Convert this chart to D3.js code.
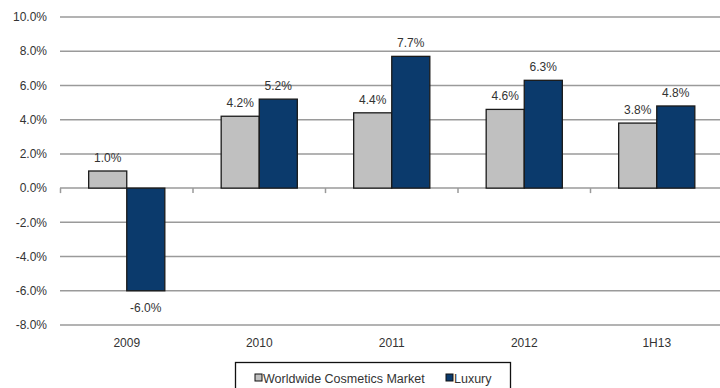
<!DOCTYPE html>
<html>
<head>
<meta charset="utf-8">
<script src="https://cdn.jsdelivr.net/npm/d3@7"></script>
<style>
  html, body { margin: 0; padding: 0; background: #fff; }
  svg { display: block; }
  text { font-family: "Liberation Sans", Arial, sans-serif; fill: #333; }
</style>
</head>
<body>
<svg id="chart" width="720" height="388"></svg>
<script>
// Annual growth by period
const categories = ["2009", "2010", "2011", "2012", "1H13"];
const seriesNames = ["Worldwide Cosmetics Market", "Luxury"];
const worldwide = [1.0, 4.2, 4.4, 4.6, 3.8];
const luxury = [-6.0, 5.2, 7.7, 6.3, 4.8];
const yTicks = [10, 8, 6, 4, 2, 0, -2, -4, -6, -8];
const colors = ["#c0c0c0", "#0b3a6c"];

const svg = d3.select("#chart");
const W = 720, H = 388;
const plotLeft = 60.5, plotRight = 723, plotTop = 17, plotBottom = 325;

const x = d3.scaleBand().domain(categories)
  .range([plotLeft, plotRight]).paddingInner(0).paddingOuter(0);
const y = d3.scaleLinear().domain([-8, 10]).range([plotBottom, plotTop]);
const sub = d3.scaleBand().domain(seriesNames).range([0, x.bandwidth()])
  .paddingInner(0).paddingOuter(0.74);

const fmt = d => d.toFixed(1) + "%";

// horizontal gridlines
svg.append("g").selectAll("line").data(yTicks).join("line")
  .attr("x1", 60).attr("x2", W)
  .attr("y1", d => y(d)).attr("y2", d => y(d))
  .attr("stroke", "#9a9a9a").attr("stroke-width", 1.5);

// y tick labels
svg.append("g").selectAll("text").data(yTicks).join("text")
  .attr("x", 47).attr("y", d => y(d)).attr("dy", "0.35em")
  .attr("text-anchor", "end").attr("font-size", 12)
  .text(fmt);

// category ticks on the zero line
const bounds = categories.map(c => x(c));
svg.append("g").selectAll("line").data(bounds).join("line")
  .attr("x1", d => d).attr("x2", d => d)
  .attr("y1", y(0)).attr("y2", y(0) + 5)
  .attr("stroke", "#9a9a9a").attr("stroke-width", 1.5);

const rows = categories.map((c, i) => ({ c, vals: [worldwide[i], luxury[i]] }));

const groups = svg.append("g").selectAll("g").data(rows).join("g")
  .attr("transform", d => `translate(${x(d.c)},0)`);

groups.selectAll("rect").data(d => d.vals.map((v, j) => ({ v, s: seriesNames[j], j })))
  .join("rect")
  .attr("x", d => sub(d.s))
  .attr("width", sub.bandwidth())
  .attr("y", d => y(Math.max(0, d.v)))
  .attr("height", d => Math.abs(y(d.v) - y(0)))
  .attr("fill", d => colors[d.j])
  .attr("stroke", "#1a1a1a").attr("stroke-width", 1.3);

groups.selectAll("text.val").data(d => d.vals.map((v, j) => ({ v, s: seriesNames[j] })))
  .join("text").attr("class", "val")
  .attr("x", d => sub(d.s) + sub.bandwidth() / 2)
  .attr("y", d => d.v >= 0 ? y(d.v) - 9 : y(d.v) + 21)
  .attr("text-anchor", "middle").attr("font-size", 12)
  .text(d => fmt(d.v));

// category labels
svg.append("g").selectAll("text").data(categories).join("text")
  .attr("x", d => x(d) + x.bandwidth() / 2).attr("y", 347)
  .attr("text-anchor", "middle").attr("font-size", 12)
  .text(d => d);

// legend
const lg = svg.append("g");
lg.append("rect").attr("x", 235.5).attr("y", 362.5).attr("width", 275).attr("height", 30)
  .attr("fill", "#fff").attr("stroke", "#111").attr("stroke-width", 1.3);
const items = [{ name: seriesNames[0], x: 255, c: colors[0] }, { name: seriesNames[1], x: 446, c: colors[1] }];
items.forEach(it => {
  lg.append("rect").attr("x", it.x).attr("y", 374).attr("width", 7).attr("height", 7)
    .attr("fill", it.c).attr("stroke", "#111").attr("stroke-width", 1);
  lg.append("text").attr("x", it.x + 8).attr("y", 382.5).attr("font-size", 12.5).text(it.name);
});
</script>
</body>
</html>
